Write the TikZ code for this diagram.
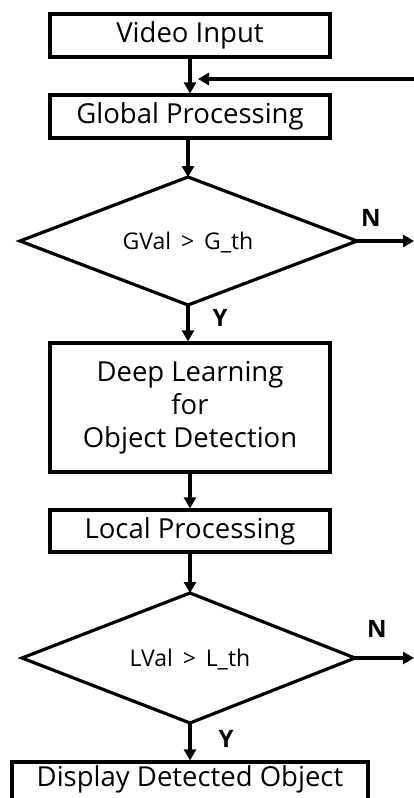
\documentclass[tikz,border=0pt]{standalone}
\usepackage{fontspec}
\setmainfont{Open Sans}
\usetikzlibrary{arrows.meta,shapes.geometric}
\begin{document}
\begin{tikzpicture}[x=1pt,y=-1pt,
  line width=3.2pt,
  proc/.style={draw,rectangle,inner sep=0pt,font=\fontsize{27.5}{33}\selectfont,align=center},
  cond/.style={font=\fontsize{23}{27}\selectfont},
  flow/.style={-{Triangle[length=11pt,width=12pt]}},
  yn/.style={font=\bfseries\fontsize{24}{28}\selectfont}]
\useasboundingbox (0,0) rectangle (414,798);
\clip (0,0) rectangle (414,798);

% process boxes
\node[proc,minimum width=280,minimum height=43] (video) at (190,35.5) {Video Input};
\node[proc,minimum width=280,minimum height=43] (global) at (190,116.5) {Global Processing};
\node[proc,minimum width=280,minimum height=129] (deep) at (190,407.5) {Deep Learning\\for\\Object Detection};
\node[proc,minimum width=280,minimum height=42] (local) at (190,531) {Local Processing};
\node[proc,minimum width=356,minimum height=60] (disp) at (190,792) {};
\node[font=\fontsize{27.5}{33}\selectfont] (disptext) at (190,779) {Display Detected Object};

% decision diamonds
\draw (20,241) -- (188,177) -- (357,241) -- (188,305) -- cycle;
\coordinate (g-top) at (188,177);
\coordinate (g-bot) at (188,305);
\coordinate (g-right) at (357,241);
\node[cond] (gtext) at (188,243) {GVal\ \,>\ \,G\_th};
\draw (22,658) -- (190,593) -- (355,658) -- (190,723) -- cycle;
\coordinate (l-top) at (190,593);
\coordinate (l-bot) at (190,723);
\coordinate (l-right) at (355,658);
\node[cond] (ltext) at (190,660) {LVal\ \,>\ \,L\_th};

% off-page ends
\coordinate (gout) at (414,241);
\coordinate (lout) at (414,658);
\coordinate (loopin) at (414,79);
\coordinate (loopend) at (198,79);

% connectors
\draw[flow] (video.south -| 190,0) -- (global.north -| 190,0);
\draw[flow] (loopin) -- (loopend);
\draw[flow] (global.south -| 188,0) -- (g-top);
\draw[flow] (g-bot) -- (deep.north -| 188,0);
\draw[flow] (deep.south -| 190,0) -- (local.north -| 190,0);
\draw[flow] (local.south -| 190,0) -- (l-top);
\draw[flow] (l-bot) -- (disp.north -| 190,0);
\draw[flow] (g-right) -- (gout);
\draw[flow] (l-right) -- (lout);

% branch labels
\node[yn] (gn) at (371,218) {N};
\node[yn] (gy) at (220,318) {Y};
\node[yn] (ln) at (377,629) {N};
\node[yn] (ly) at (226,739) {Y};
\end{tikzpicture}
\end{document}
